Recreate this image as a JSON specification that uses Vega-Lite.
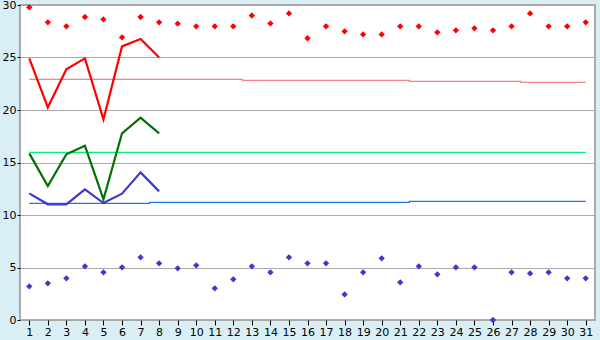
{
  "$schema": "https://vega.github.io/schema/vega-lite/v6.json",
  "width": 575,
  "height": 315,
  "autosize": {"type": "none"},
  "padding": {"left": 20, "top": 5, "right": 5, "bottom": 20},
  "background": "#d9eff5",
  "config": {
    "view": {"fill": "white", "stroke": "#aaaaaa", "strokeWidth": 2},
    "font": "DejaVu Sans",
    "axis": {"labelFont": "DejaVu Sans", "labelFontSize": 11, "labelColor": "black", "tickColor": "black", "domain": false, "title": null}
  },
  "datasets": {
    "pts": [
      {"day": 1, "s": "hi", "v": 29.78}, {"day": 2, "s": "hi", "v": 28.35}, {"day": 3, "s": "hi", "v": 27.97}, {"day": 4, "s": "hi", "v": 28.86}, {"day": 5, "s": "hi", "v": 28.63}, {"day": 6, "s": "hi", "v": 26.92}, {"day": 7, "s": "hi", "v": 28.86}, {"day": 8, "s": "hi", "v": 28.35}, {"day": 9, "s": "hi", "v": 28.22}, {"day": 10, "s": "hi", "v": 27.97},
      {"day": 11, "s": "hi", "v": 27.97}, {"day": 12, "s": "hi", "v": 27.97}, {"day": 13, "s": "hi", "v": 29.0}, {"day": 14, "s": "hi", "v": 28.25}, {"day": 15, "s": "hi", "v": 29.2}, {"day": 16, "s": "hi", "v": 26.83}, {"day": 17, "s": "hi", "v": 27.97}, {"day": 18, "s": "hi", "v": 27.49}, {"day": 19, "s": "hi", "v": 27.2}, {"day": 20, "s": "hi", "v": 27.2},
      {"day": 21, "s": "hi", "v": 27.97}, {"day": 22, "s": "hi", "v": 27.97}, {"day": 23, "s": "hi", "v": 27.4}, {"day": 24, "s": "hi", "v": 27.59}, {"day": 25, "s": "hi", "v": 27.78}, {"day": 26, "s": "hi", "v": 27.59}, {"day": 27, "s": "hi", "v": 27.97}, {"day": 28, "s": "hi", "v": 29.2}, {"day": 29, "s": "hi", "v": 27.97}, {"day": 30, "s": "hi", "v": 27.97}, {"day": 31, "s": "hi", "v": 28.35},
      {"day": 1, "s": "lo", "v": 3.21}, {"day": 2, "s": "lo", "v": 3.49}, {"day": 3, "s": "lo", "v": 3.97}, {"day": 4, "s": "lo", "v": 5.11}, {"day": 5, "s": "lo", "v": 4.54}, {"day": 6, "s": "lo", "v": 5.02}, {"day": 7, "s": "lo", "v": 5.97}, {"day": 8, "s": "lo", "v": 5.4}, {"day": 9, "s": "lo", "v": 4.92}, {"day": 10, "s": "lo", "v": 5.21},
      {"day": 11, "s": "lo", "v": 3.02}, {"day": 12, "s": "lo", "v": 3.87}, {"day": 13, "s": "lo", "v": 5.11}, {"day": 14, "s": "lo", "v": 4.54}, {"day": 15, "s": "lo", "v": 5.97}, {"day": 16, "s": "lo", "v": 5.4}, {"day": 17, "s": "lo", "v": 5.4}, {"day": 18, "s": "lo", "v": 2.44}, {"day": 19, "s": "lo", "v": 4.54}, {"day": 20, "s": "lo", "v": 5.87},
      {"day": 21, "s": "lo", "v": 3.59}, {"day": 22, "s": "lo", "v": 5.11}, {"day": 23, "s": "lo", "v": 4.35}, {"day": 24, "s": "lo", "v": 5.02}, {"day": 25, "s": "lo", "v": 5.02}, {"day": 26, "s": "lo", "v": 0.0}, {"day": 27, "s": "lo", "v": 4.54}, {"day": 28, "s": "lo", "v": 4.44}, {"day": 29, "s": "lo", "v": 4.54}, {"day": 30, "s": "lo", "v": 3.97}, {"day": 31, "s": "lo", "v": 3.97}
    ],
    "lines": [
      {"day": 1, "s": "max", "v": 24.92}, {"day": 2, "s": "max", "v": 20.25}, {"day": 3, "s": "max", "v": 23.87}, {"day": 4, "s": "max", "v": 24.92}, {"day": 5, "s": "max", "v": 19.1}, {"day": 6, "s": "max", "v": 26.06}, {"day": 7, "s": "max", "v": 26.76}, {"day": 8, "s": "max", "v": 25.0},
      {"day": 1, "s": "mean", "v": 15.87}, {"day": 2, "s": "mean", "v": 12.76}, {"day": 3, "s": "mean", "v": 15.78}, {"day": 4, "s": "mean", "v": 16.6}, {"day": 5, "s": "mean", "v": 11.49}, {"day": 6, "s": "mean", "v": 17.78}, {"day": 7, "s": "mean", "v": 19.27}, {"day": 8, "s": "mean", "v": 17.78},
      {"day": 1, "s": "min", "v": 12.06}, {"day": 2, "s": "min", "v": 11.02}, {"day": 3, "s": "min", "v": 11.02}, {"day": 4, "s": "min", "v": 12.44}, {"day": 5, "s": "min", "v": 11.14}, {"day": 6, "s": "min", "v": 12.03}, {"day": 7, "s": "min", "v": 14.06}, {"day": 8, "s": "min", "v": 12.25}
    ],
    "refs": [
      {"day": 1, "s": "rmax", "v": 22.92}, {"day": 2, "s": "rmax", "v": 22.92}, {"day": 3, "s": "rmax", "v": 22.92}, {"day": 4, "s": "rmax", "v": 22.92}, {"day": 5, "s": "rmax", "v": 22.92}, {"day": 6, "s": "rmax", "v": 22.92}, {"day": 7, "s": "rmax", "v": 22.92}, {"day": 8, "s": "rmax", "v": 22.92}, {"day": 9, "s": "rmax", "v": 22.92}, {"day": 10, "s": "rmax", "v": 22.92}, {"day": 11, "s": "rmax", "v": 22.92}, {"day": 12, "s": "rmax", "v": 22.92},
      {"day": 13, "s": "rmax", "v": 22.83}, {"day": 14, "s": "rmax", "v": 22.83}, {"day": 15, "s": "rmax", "v": 22.83}, {"day": 16, "s": "rmax", "v": 22.83}, {"day": 17, "s": "rmax", "v": 22.83}, {"day": 18, "s": "rmax", "v": 22.83}, {"day": 19, "s": "rmax", "v": 22.83}, {"day": 20, "s": "rmax", "v": 22.83}, {"day": 21, "s": "rmax", "v": 22.83},
      {"day": 22, "s": "rmax", "v": 22.73}, {"day": 23, "s": "rmax", "v": 22.73}, {"day": 24, "s": "rmax", "v": 22.73}, {"day": 25, "s": "rmax", "v": 22.73}, {"day": 26, "s": "rmax", "v": 22.73}, {"day": 27, "s": "rmax", "v": 22.73},
      {"day": 28, "s": "rmax", "v": 22.63}, {"day": 29, "s": "rmax", "v": 22.63}, {"day": 30, "s": "rmax", "v": 22.63}, {"day": 31, "s": "rmax", "v": 22.63},
      {"day": 1, "s": "rmean", "v": 15.97}, {"day": 31, "s": "rmean", "v": 15.97},
      {"day": 1, "s": "rmin", "v": 11.11}, {"day": 2, "s": "rmin", "v": 11.11}, {"day": 3, "s": "rmin", "v": 11.11}, {"day": 4, "s": "rmin", "v": 11.11}, {"day": 5, "s": "rmin", "v": 11.11}, {"day": 6, "s": "rmin", "v": 11.11}, {"day": 7, "s": "rmin", "v": 11.11},
      {"day": 8, "s": "rmin", "v": 11.21}, {"day": 9, "s": "rmin", "v": 11.21}, {"day": 10, "s": "rmin", "v": 11.21}, {"day": 11, "s": "rmin", "v": 11.21}, {"day": 12, "s": "rmin", "v": 11.21}, {"day": 13, "s": "rmin", "v": 11.21}, {"day": 14, "s": "rmin", "v": 11.21}, {"day": 15, "s": "rmin", "v": 11.21}, {"day": 16, "s": "rmin", "v": 11.21}, {"day": 17, "s": "rmin", "v": 11.21}, {"day": 18, "s": "rmin", "v": 11.21}, {"day": 19, "s": "rmin", "v": 11.21}, {"day": 20, "s": "rmin", "v": 11.21}, {"day": 21, "s": "rmin", "v": 11.21},
      {"day": 22, "s": "rmin", "v": 11.3}, {"day": 23, "s": "rmin", "v": 11.3}, {"day": 24, "s": "rmin", "v": 11.3}, {"day": 25, "s": "rmin", "v": 11.3}, {"day": 26, "s": "rmin", "v": 11.3}, {"day": 27, "s": "rmin", "v": 11.3}, {"day": 28, "s": "rmin", "v": 11.3}, {"day": 29, "s": "rmin", "v": 11.3}, {"day": 30, "s": "rmin", "v": 11.3}, {"day": 31, "s": "rmin", "v": 11.3}
    ]
  },
  "encoding": {
    "x": {"field": "day", "type": "quantitative",
      "scale": {"domain": [0.5, 31.5], "nice": false, "zero": false},
      "axis": {"values": [1,2,3,4,5,6,7,8,9,10,11,12,13,14,15,16,17,18,19,20,21,22,23,24,25,26,27,28,29,30,31], "grid": false, "tickSize": 5, "labelPadding": 1, "labelFlush": false, "labelOverlap": false}},
    "y": {"field": "v", "type": "quantitative",
      "scale": {"domain": [0, 30], "nice": false},
      "axis": {"values": [0, 5, 10, 15, 20, 25, 30], "grid": true, "gridColor": "#aaaaaa", "gridOpacity": 1, "gridWidth": 1.2, "tickSize": 3, "labelPadding": 1, "labelFlush": false}}
  },
  "layer": [
    {
      "data": {"name": "refs"},
      "mark": {"type": "line", "interpolate": "step", "strokeWidth": 1.3},
      "encoding": {
        "detail": {"field": "s"},
        "color": {"field": "s", "type": "nominal", "legend": null,
          "scale": {"domain": ["rmax", "rmean", "rmin"], "range": ["#ff8080", "#00f080", "#1a78e8"]}}
      }
    },
    {
      "data": {"name": "lines"},
      "mark": {"type": "line", "strokeWidth": 2.2},
      "encoding": {
        "detail": {"field": "s"},
        "color": {"field": "s", "type": "nominal", "legend": null,
          "scale": {"domain": ["max", "mean", "min"], "range": ["#ff0000", "#007000", "#3a3acc"]}}
      }
    },
    {
      "data": {"name": "pts"},
      "mark": {"type": "point", "shape": "diamond", "filled": true, "size": 40, "opacity": 1},
      "encoding": {
        "color": {"field": "s", "type": "nominal", "legend": null,
          "scale": {"domain": ["hi", "lo"], "range": ["#ff0000", "#3a3acc"]}}
      }
    }
  ],
  "resolve": {"scale": {"color": "independent"}}
}
